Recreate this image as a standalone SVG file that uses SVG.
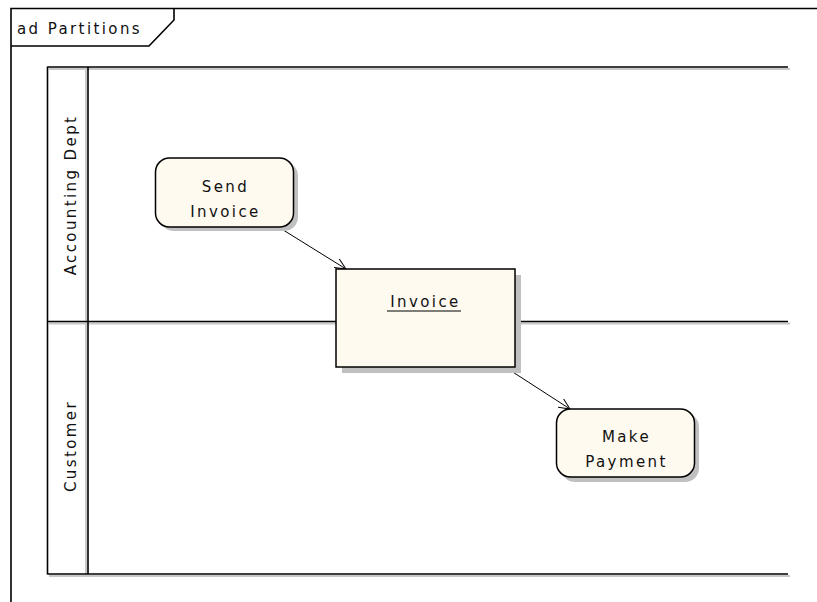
<svg xmlns="http://www.w3.org/2000/svg" width="817" height="602" viewBox="0 0 817 602">
<style>
text{font-family:"DejaVu Sans","Liberation Sans",sans-serif;font-size:15px;letter-spacing:2.4px;fill:#111}
.ln{stroke:#000;stroke-width:1.6;fill:none}
.sh{stroke:#c8c8c8;stroke-width:2;fill:none}
.node{fill:#fffaf0;stroke:#000;stroke-width:1.5}
.shadow{fill:#c0c0c0}
.con{stroke:#000;stroke-width:1;fill:none;marker-end:url(#open)}
</style>
<defs>
<marker id="open" viewBox="0 0 12 12" refX="11" refY="6" markerWidth="12" markerHeight="12" markerUnits="userSpaceOnUse" orient="auto">
<path d="M0,1 L11,6 L0,11" fill="none" stroke="#000" stroke-width="1"/>
</marker>
</defs>
<rect width="817" height="602" fill="#fff"/>
<g id="frame">
<path class="ln" d="M11,602 V8.5 H817" stroke-width="1.2"/>
<path class="ln" d="M11,46 H149 L174,20 V8.5" stroke-width="1.2"/>
<text x="17" y="34" letter-spacing="2.2">ad Partitions</text>
</g>
<g id="lanes">
<path class="sh" d="M49,69 H790 M49,323.5 H790 M49,576 H790 M86,68 V575"/>
<path class="ln" d="M47.5,67 H788 M47.5,321.5 H788 M47.5,574 H788 M47.5,66.5 V574.5 M88,66.5 V574.5"/>
<text transform="translate(76,195) rotate(-90)" text-anchor="middle" letter-spacing="2">Accounting Dept</text>
<text transform="translate(76,446) rotate(-90)" text-anchor="middle" letter-spacing="2">Customer</text>
</g>
<g id="connectors">
<line class="con" x1="280" y1="228" x2="346" y2="269"/>
<line class="con" x1="505" y1="367" x2="570" y2="409"/>
</g>
<g id="send-invoice">
<rect class="shadow" x="160" y="162" width="138" height="69" rx="14"/>
<rect class="node" x="155.5" y="158" width="138" height="69" rx="14"/>
<text x="225.5" y="192" text-anchor="middle">Send</text>
<text x="225.5" y="217" text-anchor="middle">Invoice</text>
</g>
<g id="invoice">
<rect class="shadow" x="342" y="275" width="179" height="98"/>
<rect class="node" x="336" y="269" width="179" height="98"/>
<text x="425.5" y="307" text-anchor="middle">Invoice</text>
<line x1="387" y1="311" x2="461" y2="311" stroke="#000" stroke-width="1.2"/>
</g>
<g id="make-payment">
<rect class="shadow" x="561" y="413" width="138" height="69" rx="14"/>
<rect class="node" x="556.5" y="409" width="138" height="68" rx="14"/>
<text x="626.5" y="442" text-anchor="middle">Make</text>
<text x="626.5" y="467" text-anchor="middle">Payment</text>
</g>
</svg>
